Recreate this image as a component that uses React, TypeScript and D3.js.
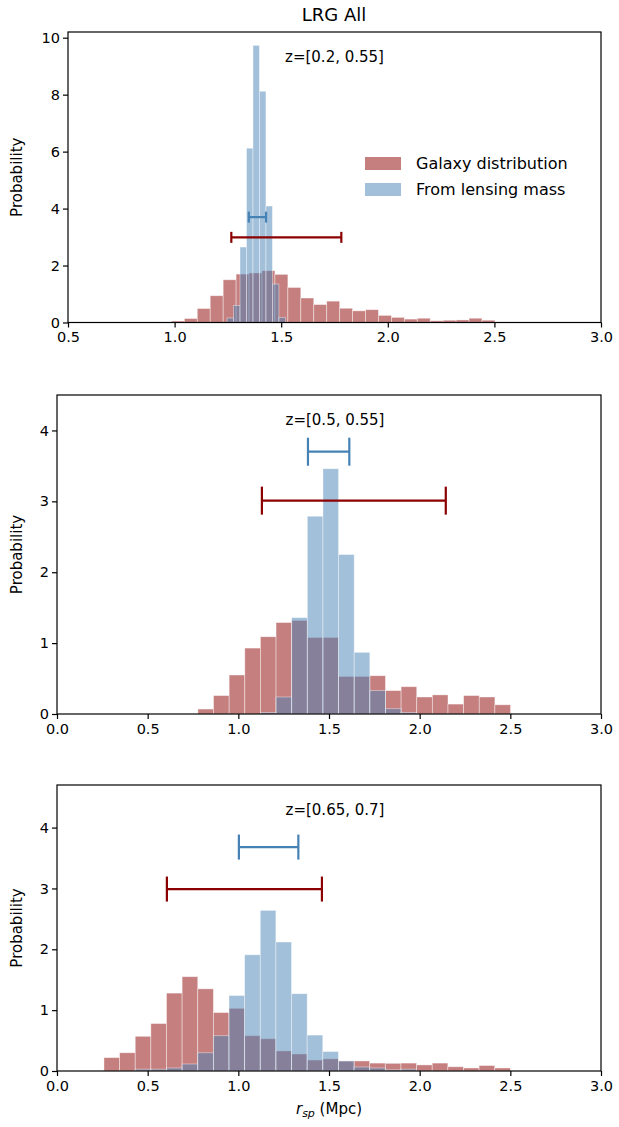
import { useEffect, useRef } from 'react';
import * as d3 from 'd3';

// Panel 1: z=[0.2, 0.55]
const galaxy1Start = 0.985;
const galaxy1Width = 0.0607;
const galaxy1 = [0.05, 0.14, 0.49, 0.94, 1.5, 1.7, 1.74, 1.82, 1.69, 1.23, 0.86, 0.63, 0.75, 0.5, 0.41, 0.45, 0.25, 0.18, 0.12, 0.15, 0.06, 0.08, 0.09, 0.15, 0.08];
const lensing1Start = 1.246;
const lensing1Width = 0.0304;
const lensing1 = [0.16, 0.6, 2.65, 6.12, 9.73, 8.12, 4.09, 1.35, 0.18];

// Panel 2: z=[0.5, 0.55]
const galaxy2Start = 0.777;
const binWidth23 = 0.0862;
const galaxy2 = [0.07, 0.26, 0.55, 0.93, 1.09, 1.29, 1.32, 1.08, 1.08, 0.53, 0.53, 0.54, 0.33, 0.385, 0.24, 0.27, 0.14, 0.26, 0.24, 0.13];
const lensing2 = [0, 0, 0, 0, 0.02, 0.24, 1.36, 2.79, 3.46, 2.25, 0.87, 0.33, 0.075, 0.02, 0, 0, 0, 0, 0, 0];

// Panel 3: z=[0.65, 0.7]
const galaxy3Start = 0.259;
const galaxy3 = [0.22, 0.3, 0.57, 0.78, 1.28, 1.55, 1.35, 0.96, 1.03, 0.58, 0.53, 0.33, 0.28, 0.18, 0.2, 0.165, 0.165, 0.13, 0.126, 0.13, 0.1, 0.13, 0.07, 0.05, 0.09, 0.05];
const lensing3 = [0, 0, 0.03, 0.03, 0.05, 0.115, 0.3, 0.58, 1.24, 1.91, 2.64, 2.12, 1.27, 0.59, 0.32, 0.165, 0.066, 0.05, 0.02, 0.03, 0, 0, 0, 0, 0, 0];

// error bars: [lo, hi, y]
const galaxyErr = [[1.266, 1.782, 2.99], [1.13, 2.144, 3.01], [0.606, 1.461, 2.99]];
const lensErr = [[1.348, 1.429, 3.7], [1.384, 1.612, 3.7], [1.003, 1.331, 3.68]];

const zLabels = ['z=[0.2, 0.55]', 'z=[0.5, 0.55]', 'z=[0.65, 0.7]'];
const xDomains = [[0.5, 3.0], [0, 3.0], [0, 3.0]];
const yDomains = [[0, 10.2], [0, 4.5], [0, 4.7]];
const xTicks = [[0.5, 1.0, 1.5, 2.0, 2.5, 3.0], [0, 0.5, 1.0, 1.5, 2.0, 2.5, 3.0], [0, 0.5, 1.0, 1.5, 2.0, 2.5, 3.0]];
const yTicks = [[0, 2, 4, 6, 8, 10], [0, 1, 2, 3, 4], [0, 1, 2, 3, 4]];

const panels = [
  { left: 68, top: 32, bottom: 322.5, capH: 11,
    galaxy: { start: galaxy1Start, w: galaxy1Width, v: galaxy1 },
    lens: { start: lensing1Start, w: lensing1Width, v: lensing1 } },
  { left: 57, top: 395, bottom: 714, capH: 28,
    galaxy: { start: galaxy2Start, w: binWidth23, v: galaxy2 },
    lens: { start: galaxy2Start, w: binWidth23, v: lensing2 } },
  { left: 57, top: 785, bottom: 1071, capH: 25,
    galaxy: { start: galaxy3Start, w: binWidth23, v: galaxy3 },
    lens: { start: galaxy3Start, w: binWidth23, v: lensing3 } },
];

const RED = 'rgb(197,127,127)';
const BLUE = 'rgb(71,129,181)';
const FONT = 'DejaVu Sans, sans-serif';

export default function App() {
  const ref = useRef<SVGSVGElement>(null);
  useEffect(() => {
    const svg = d3.select(ref.current);
    svg.selectAll('*').remove();
    const right = 601;

    svg.append('text').attr('x', 334).attr('y', 21).attr('text-anchor', 'middle')
      .attr('font-size', 18).attr('font-family', FONT).text('LRG All');

    panels.forEach((p, i) => {
      const x = d3.scaleLinear().domain(xDomains[i]).range([p.left, right]);
      const y = d3.scaleLinear().domain(yDomains[i]).range([p.bottom, p.top]);
      const g = svg.append('g');

      const drawBars = (h: { start: number; w: number; v: number[] }, fill: string, op: number) => {
        g.append('g').selectAll('rect').data(h.v).join('rect')
          .attr('x', (_, k) => x(h.start + k * h.w))
          .attr('width', x(h.start + h.w) - x(h.start))
          .attr('y', d => y(d))
          .attr('height', d => y(0) - y(d))
          .attr('fill', fill).attr('fill-opacity', op)
          .attr('stroke', 'white').attr('stroke-opacity', 0.5).attr('stroke-width', 0.8);
      };
      drawBars(p.galaxy, RED, 1);
      drawBars(p.lens, BLUE, 0.5);

      const errs: [number[], string][] = [[galaxyErr[i], '#8b0000'], [lensErr[i], '#4682b4']];
      errs.forEach(([e, c]) => {
        const [lo, hi, yv] = e;
        g.append('line').attr('x1', x(lo)).attr('x2', x(hi)).attr('y1', y(yv)).attr('y2', y(yv))
          .attr('stroke', c).attr('stroke-width', 2.2);
        [lo, hi].forEach(v => g.append('line').attr('x1', x(v)).attr('x2', x(v))
          .attr('y1', y(yv) - p.capH / 2).attr('y2', y(yv) + p.capH / 2)
          .attr('stroke', c).attr('stroke-width', 2.2));
      });

      g.append('rect').attr('x', p.left).attr('y', p.top).attr('width', right - p.left)
        .attr('height', p.bottom - p.top).attr('fill', 'none').attr('stroke', 'black').attr('stroke-width', 1.2);

      const ax = g.append('g').attr('transform', `translate(0,${p.bottom})`)
        .call(d3.axisBottom(x).tickValues(xTicks[i]).tickFormat(d3.format('.1f')).tickSize(5).tickSizeOuter(0));
      ax.select('.domain').remove();
      ax.selectAll('text').attr('font-size', 14.5).attr('font-family', FONT).attr('fill', 'black').attr('dy', '0.8em');
      ax.selectAll('line').attr('stroke-width', 1.2);

      const ay = g.append('g').attr('transform', `translate(${p.left},0)`)
        .call(d3.axisLeft(y).tickValues(yTicks[i]).tickFormat(d3.format('d')).tickSize(5).tickSizeOuter(0));
      ay.select('.domain').remove();
      ay.selectAll('text').attr('font-size', 14.5).attr('font-family', FONT).attr('fill', 'black');
      ay.selectAll('line').attr('stroke-width', 1.2);

      g.append('text').attr('transform', `translate(22,${(p.top + p.bottom) / 2}) rotate(-90)`)
        .attr('text-anchor', 'middle').attr('font-size', 15).attr('font-family', FONT).text('Probability');

      g.append('text').attr('x', (p.left + right) / 2 + (i === 0 ? 0 : 6)).attr('y', p.top + 30)
        .attr('text-anchor', 'middle').attr('font-size', 15).attr('font-family', FONT).text(zLabels[i]);
    });

    // legend
    const lg = svg.append('g').attr('font-family', FONT).attr('font-size', 16);
    lg.append('rect').attr('x', 365).attr('y', 157).attr('width', 36).attr('height', 13).attr('fill', RED);
    lg.append('rect').attr('x', 365).attr('y', 183).attr('width', 36).attr('height', 13).attr('fill', BLUE).attr('fill-opacity', 0.5);
    lg.append('text').attr('x', 416).attr('y', 169).text('Galaxy distribution');
    lg.append('text').attr('x', 416).attr('y', 195).text('From lensing mass');

    const xl = svg.append('text').attr('x', 329).attr('y', 1114).attr('text-anchor', 'middle')
      .attr('font-size', 15).attr('font-family', FONT);
    xl.append('tspan').attr('font-style', 'italic').text('r');
    xl.append('tspan').attr('font-style', 'italic').attr('font-size', 11).attr('dy', 3).text('sp');
    xl.append('tspan').attr('dy', -3).text(' (Mpc)');
  }, []);
  return <svg ref={ref} width={619} height={1127} style={{ position: 'absolute', left: 0, top: 0 }} />;
}
